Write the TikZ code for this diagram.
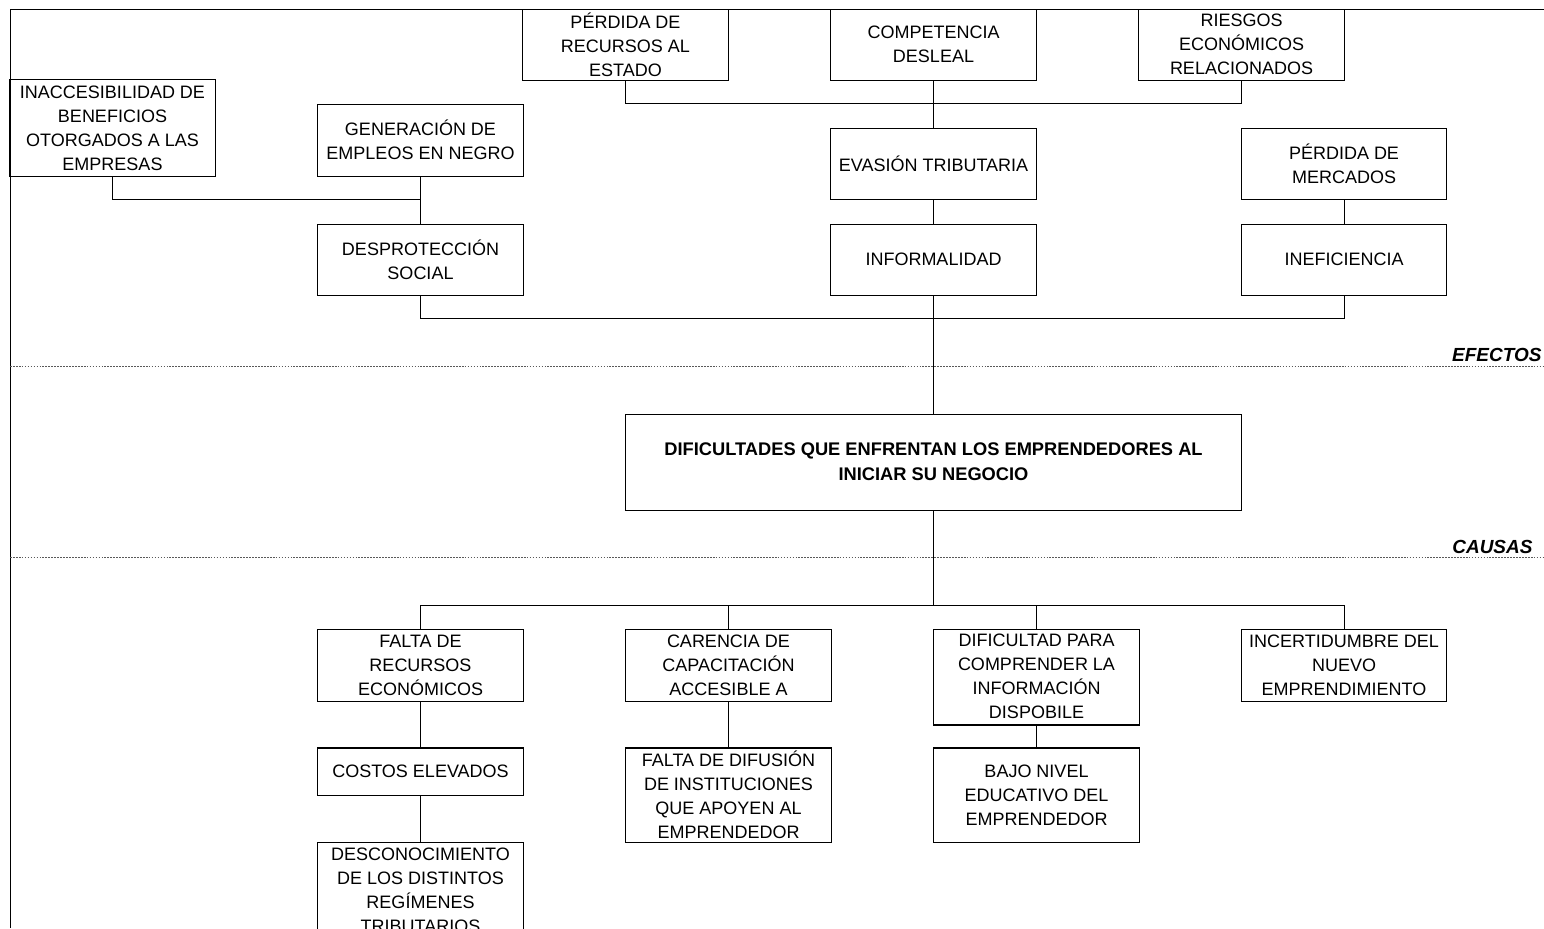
\documentclass[tikz,border=0pt]{standalone}
\usepackage{fontspec}
\setmainfont{Liberation Sans}

\begin{document}
\begin{tikzpicture}[x=0.025cm,y=-0.025cm,line width=0.7pt,
  caja/.style={draw,inner sep=0pt,align=center,minimum width=5.125cm,
    minimum height=1.775cm,font=\fontsize{12.8}{17}\selectfont},
  grueso/.style={line width=1.4pt},
  separa/.style={black!65,line width=0.6pt,dash pattern=on 1.2pt off 0.9pt},
  zona/.style={font=\fontsize{13.5}{16}\selectfont\bfseries\itshape,
    anchor=base east,inner sep=0pt}]

  % page size of the reference
  \useasboundingbox (0,0) rectangle (1544,928);
  \clip (0,0) rectangle (1544,928);

  % outer frame (left and top only)
  \draw (10,928) -- (10,9) -- (1544,9);

  % Efectos
  \node[caja] (perdrec) at (625.5,44.5) {PÉRDIDA DE\\RECURSOS AL\\ESTADO};
  \node[caja] (compet)  at (933.5,44.5) {COMPETENCIA\\DESLEAL};
  \node[caja] (riesgo)  at (1241.5,44.5) {RIESGOS\\ECONÓMICOS\\RELACIONADOS};

  \node[caja,minimum height=2.4cm] (inacc) at (112.5,128)
        {INACCESIBILIDAD DE\\BENEFICIOS\\OTORGADOS A LAS\\EMPRESAS};
  \node[caja,minimum height=1.8cm] (genera) at (420.5,140)
        {GENERACIÓN DE\\EMPLEOS EN NEGRO};
  \node[caja] (evasion) at (933.5,163.5) {EVASIÓN TRIBUTARIA};
  \node[caja] (perdmer) at (1344,163.5) {PÉRDIDA DE\\MERCADOS};

  \node[caja] (despro) at (420.5,259.5) {DESPROTECCIÓN\\SOCIAL};
  \node[caja] (inform) at (933.5,259.5) {INFORMALIDAD};
  \node[caja] (inefic) at (1344,259.5) {INEFICIENCIA};

  % separators
  \draw[separa] (10,366) -- (1544,366);
  \node[zona] (efectos) at (1542,361) {EFECTOS};
  \draw[separa] (10,557) -- (1544,557);
  \node[zona] (causas) at (1533,553) {CAUSAS};

  % Problema central
  \node[caja,minimum width=15.4cm,minimum height=2.4cm,
        font=\fontsize{13}{17.7}\selectfont\bfseries] (central) at (933.5,462)
        {DIFICULTADES QUE ENFRENTAN LOS EMPRENDEDORES AL\\INICIAR SU NEGOCIO};

  % Causas
  \node[caja,minimum height=1.8cm] (falta)  at (420.5,665)
        {FALTA DE\\RECURSOS\\ECONÓMICOS};
  \node[caja,minimum height=1.8cm] (carenc) at (728.5,665)
        {CARENCIA DE\\CAPACITACIÓN\\ACCESIBLE A};
  \node[caja,minimum height=2.375cm] (dific) at (1036.5,676.5)
        {DIFICULTAD PARA\\COMPRENDER LA\\INFORMACIÓN\\DISPOBILE};
  \node[caja,minimum height=1.8cm] (incert) at (1344,665)
        {INCERTIDUMBRE DEL\\NUEVO\\EMPRENDIMIENTO};

  \node[caja,minimum height=1.175cm] (costos) at (420.5,771.5) {COSTOS ELEVADOS};
  \node[caja,minimum height=2.35cm] (difus) at (728.5,795)
        {FALTA DE DIFUSIÓN\\DE INSTITUCIONES\\QUE APOYEN AL\\EMPRENDEDOR};
  \node[caja,minimum height=2.35cm] (bajo) at (1036.5,795)
        {BAJO NIVEL\\EDUCATIVO DEL\\EMPRENDEDOR};
  \node[caja,minimum height=2.4cm] (descon) at (420.5,890)
        {DESCONOCIMIENTO\\DE LOS DISTINTOS\\REGÍMENES\\TRIBUTARIOS};

  % connectors, effects side
  \draw (perdrec.south) -- ++(0,23) -| (riesgo.south);
  \draw (compet.south) -- (evasion.north);
  \draw (inacc.south) -- ++(0,23) -| (genera.south);
  \draw (genera.south) -- (despro.north);
  \draw (evasion.south) -- (inform.north);
  \draw (perdmer.south) -- (inefic.north);
  \draw (despro.south) -- ++(0,23) -| (inefic.south);
  \draw (inform.south) -- (central.north);

  % connectors, causes side
  \coordinate (ramal) at (933.5,605);
  \draw (central.south) -- (ramal);
  \draw (falta.north) |- (ramal) -| (incert.north);
  \draw (carenc.north) -- (carenc.north |- ramal);
  \draw (dific.north) -- (dific.north |- ramal);
  \draw (falta.south) -- (costos.north);
  \draw (costos.south) -- (descon.north);
  \draw (carenc.south) -- (difus.north);
  \draw (dific.south) -- (bajo.north);

  % heavier box edges
  \foreach \n in {despro,inform,inefic,central,dific}
    \draw[grueso] (\n.south west) -- (\n.south east);
  \foreach \n in {costos,difus,bajo}
    \draw[grueso] (\n.north west) -- (\n.north east);

\end{tikzpicture}
\end{document}
